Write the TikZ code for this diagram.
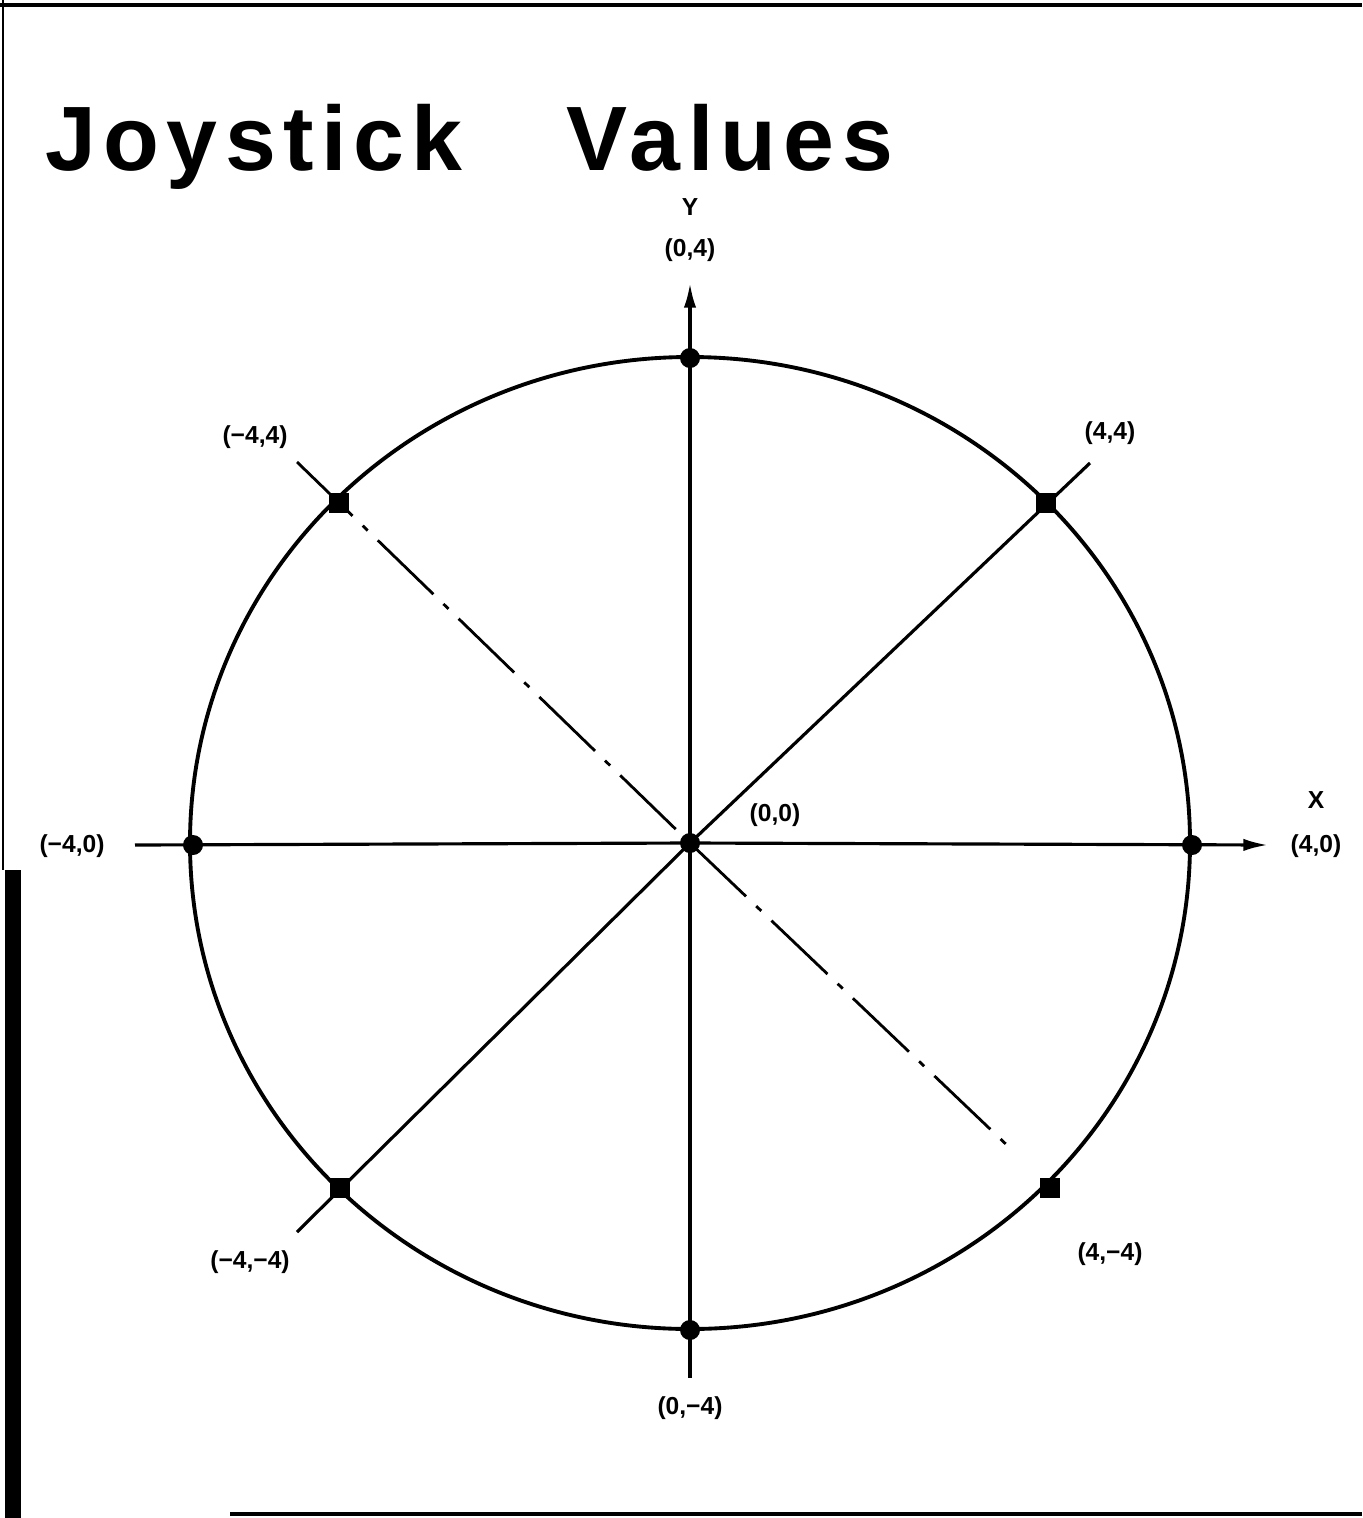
\documentclass[tikz,border=0pt]{standalone}
\usepackage{fontspec}
\setmainfont{Liberation Sans}
\newfontfamily\titlefont[LetterSpace=8]{Liberation Sans}
\usetikzlibrary{arrows.meta}

\begin{document}
\begin{tikzpicture}[x=0.01cm, y=-0.01cm,
            dot/.style={circle, fill=black, inner sep=0pt, minimum size=0.2cm},
            sq/.style={rectangle, fill=black, inner sep=0pt, minimum size=0.2cm},
            lbl/.style={font=\bfseries\fontsize{7}{8}\selectfont, inner sep=1pt},
            ttl/.style={font=\titlefont\bfseries\fontsize{26}{30}\selectfont, anchor=base west, inner sep=0pt},
            ax/.style={line width=0.9pt},
            arr/.style={-{Latex[length=7pt, width=3.5pt]}, line width=0.9pt},
            brk/.style={line width=0.8pt, dash pattern=on 22pt off 4pt on 2pt off 4pt}
        ]
            \useasboundingbox (0,0) rectangle (1362,1518);
            % scan frame
            \draw[line width=1.4pt] (0,5) -- (1362,5);
            \draw[line width=0.6pt] (3,0) -- (3,870);
            \draw[line width=4.5pt] (13,870) -- (13,1518);
            \draw[line width=0.9pt] (230,1514) -- (1362,1514);
            % title
            \node[ttl] (title1) at (45,170) {Joystick};
            \node[ttl] (title2) at (566,170) {Values};
            % circle of values
            \draw[line width=1.1pt] (690,843) ellipse [x radius=500, y radius=486];
            % points
            \node[dot] (c)  at (690,843)  {};
            \node[dot] (n)  at (690,358)  {};
            \node[dot] (s)  at (690,1330) {};
            \node[dot] (w)  at (193,845)  {};
            \node[dot] (e)  at (1192,845) {};
            \node[sq]  (nw) at (339,503)  {};
            \node[sq]  (ne) at (1046,503) {};
            \node[sq]  (sw) at (340,1188) {};
            \node[sq]  (se) at (1050,1188) {};
            % free ends
            \coordinate (ytop)  at (690,283);
            \coordinate (ybot)  at (690,1378);
            \coordinate (xleft) at (135,845);
            \coordinate (xtip)  at (1268,845);
            \coordinate (nwend) at (297,462);
            \coordinate (neend) at (1090,463);
            \coordinate (swend) at (297,1232);
            \coordinate (seend) at (1010,1148);
            % axes and diagonals
            \draw[arr] (c.center) -- (ytop);
            \draw[ax]  (c.center) -- (ybot);
            \draw[ax]  (xleft) -- (c.center);
            \draw[arr] (c.center) -- (xtip);
            \draw[brk] (nwend) -- (c.center);
            \draw[ax]  (c.center) -- (neend);
            \draw[ax]  (c.center) -- (swend);
            \draw[brk] (c.center) -- (seend);
            % labels
            \node[lbl] (ylab)  at (690,207)  {Y};
            \node[lbl] (ln)    at (690,250)  {(0,4)};
            \node[lbl] (lnw)   at (255,437)  {(−4,4)};
            \node[lbl] (lne)   at (1110,433) {(4,4)};
            \node[lbl] (lw)    at (72,846)   {(−4,0)};
            \node[lbl] (xlab)  at (1316,800) {X};
            \node[lbl] (le)    at (1316,846) {(4,0)};
            \node[lbl] (lc)    at (775,815)  {(0,0)};
            \node[lbl] (lsw)   at (250,1262) {(−4,−4)};
            \node[lbl] (lse)   at (1110,1254) {(4,−4)};
            \node[lbl] (ls)    at (690,1408) {(0,−4)};
        \end{tikzpicture}
\end{document}
